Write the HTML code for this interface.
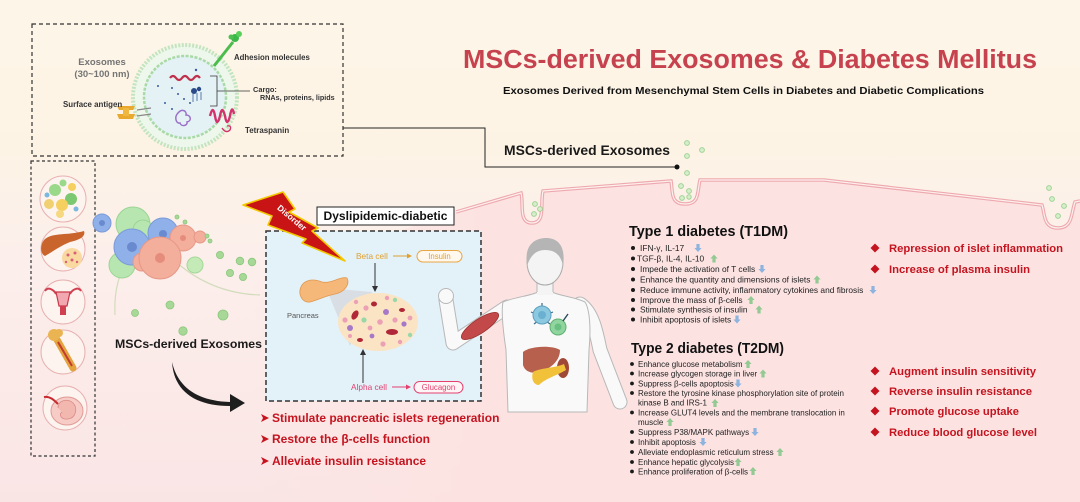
<!DOCTYPE html>
<html><head><meta charset="utf-8"><style>
html,body{margin:0;padding:0;width:1080px;height:502px;overflow:hidden;background:#fdf4e6}
svg{display:block}
text{font-family:"Liberation Sans",Arial,sans-serif}
</style></head><body>
<svg width="1080" height="502" viewBox="0 0 1080 502" xmlns="http://www.w3.org/2000/svg">
<defs>
<linearGradient id="bg" x1="0" y1="0" x2="0" y2="1">
<stop offset="0" stop-color="#fdf6e8"/>
<stop offset="0.3" stop-color="#fdf3e5"/>
<stop offset="0.5" stop-color="#fcefeb"/>
<stop offset="1" stop-color="#fae5e5"/>
</linearGradient>
<linearGradient id="mem" gradientUnits="userSpaceOnUse" x1="250" y1="0" x2="480" y2="0">
<stop offset="0" stop-color="#fce3e2" stop-opacity="0"/>
<stop offset="1" stop-color="#fce3e2" stop-opacity="1"/>
</linearGradient>
<path id="up" d="M0,-4 L3.6,0 L1.6,0 L1.6,4 L-1.6,4 L-1.6,0 L-3.6,0 Z"/>
<path id="dn" d="M0,4 L3.6,0 L1.6,0 L1.6,-4 L-1.6,-4 L-1.6,0 L-3.6,0 Z"/>
</defs>
<rect width="1080" height="502" fill="url(#bg)"/>

<!-- membrane -->
<path d="M250,280 L456,212 L521,193 C524,203 518,223 532,223 C546,223 540,203 543,191 L671,181 C673,192 670,204 685,204 C700,204 697,192 700,180 L824,180 L1042,205 C1045,214 1043,228 1058,228 C1073,228 1071,213 1075,202 L1080,201 L1080,502 L250,502 Z" fill="url(#mem)"/>
<path d="M456,212 L521,193 C524,203 518,223 532,223 C546,223 540,203 543,191 L671,181 C673,192 670,204 685,204 C700,204 697,192 700,180 L824,180 L1042,205 C1045,214 1043,228 1058,228 C1073,228 1071,213 1075,202 L1080,201" fill="none" stroke="#eea9ae" stroke-width="3.5"/>
<path d="M456,212 L521,193 C524,203 518,223 532,223 C546,223 540,203 543,191 L671,181 C673,192 670,204 685,204 C700,204 697,192 700,180 L824,180 L1042,205 C1045,214 1043,228 1058,228 C1073,228 1071,213 1075,202 L1080,201" fill="none" stroke="#fdf0ef" stroke-width="1.2"/>
<g fill="#d6eecc" stroke="#9fd394" stroke-width="1">
<circle cx="687" cy="143" r="2.4"/><circle cx="702" cy="150" r="2.4"/><circle cx="687" cy="156" r="2.4"/>
<circle cx="687" cy="173" r="2.4"/><circle cx="681" cy="186" r="2.4"/><circle cx="689" cy="191" r="2.4"/>
<circle cx="682" cy="198" r="2.4"/><circle cx="689" cy="197" r="2.2"/>
<circle cx="535" cy="204" r="2.4"/><circle cx="540" cy="209" r="2.4"/><circle cx="534" cy="214" r="2.4"/>
<circle cx="1049" cy="188" r="2.4"/><circle cx="1052" cy="199" r="2.4"/><circle cx="1064" cy="206" r="2.4"/><circle cx="1058" cy="216" r="2.4"/>
</g>

<!-- top-left exosome box -->
<rect x="32" y="24" width="311" height="132" fill="none" stroke="#333" stroke-width="1.2" stroke-dasharray="4 3"/>
<circle cx="185" cy="97" r="52" fill="#eef7ec" stroke="#c3e4bf" stroke-width="4" stroke-dasharray="2 1.5"/>
<circle cx="185" cy="97" r="41" fill="#e4f2f5" stroke="#a9d9a6" stroke-width="2.5" stroke-dasharray="3 1.5"/>
<path d="M170,78 q3,-4 6,0 t6,0 t6,0 t6,0 t6,0" fill="none" stroke="#c0304a" stroke-width="2.2"/>
<g fill="#3a5a9a"><circle cx="196" cy="70" r="1.2"/><circle cx="172" cy="88" r="1"/><circle cx="178" cy="94" r="1"/><circle cx="184" cy="99" r="1"/><circle cx="172" cy="109" r="1"/><circle cx="190" cy="103" r="1"/><circle cx="165" cy="103" r="1"/><circle cx="158" cy="86" r="1"/></g>
<circle cx="194" cy="91" r="3" fill="#2a4a8a"/><circle cx="199" cy="89" r="2.2" fill="#2a4a8a"/>
<path d="M193,94 v8 M197,93 v8 M201,92 v8" stroke="#5a7ab0" stroke-width="1"/>
<path d="M178,113 c4,-5 9,-2 8,2 c5,0 6,6 1,7 c1,4 -6,5 -7,1 c-4,1 -6,-6 -2,-10 z" fill="none" stroke="#9a70c8" stroke-width="1.5"/>
<path d="M210,76 H217 V106 H210 M217,91 H250" fill="none" stroke="#333" stroke-width="0.8"/>
<path d="M214,66 L233,42" stroke="#4cbc4c" stroke-width="3"/>
<circle cx="235" cy="38" r="4" fill="#3cb84a"/><circle cx="239" cy="34" r="3" fill="#5ad05a"/><circle cx="231" cy="37" r="2.5" fill="#4cc050"/>
<path d="M137,110 L151,108 M137,116 L151,114" stroke="#888" stroke-width="1.2"/>
<path d="M117,106 h18 l-2,4 h-14 z M117,114 h18 l-2,5 h-14 z" fill="#e9a92e"/>
<rect x="123" y="108" width="6" height="8" fill="#f0b840"/>
<path d="M210,116 q3,-12 5,0 q2,12 5,0 q2,-12 5,0 q2,12 5,0 q2,-12 4,-2" fill="none" stroke="#d3326c" stroke-width="2.4"/>
<path d="M222,128 q4,6 8,2 q2,-5 -3,-4" fill="none" stroke="#d3326c" stroke-width="1.4"/>
<text x="102" y="65" font-size="9.5" font-weight="bold" fill="#747474" text-anchor="middle">Exosomes</text>
<text x="102" y="77" font-size="9.5" font-weight="bold" fill="#747474" text-anchor="middle">(30~100 nm)</text>
<text x="234" y="60" font-size="7.8" font-weight="bold" fill="#333">Adhesion molecules</text>
<text x="253" y="92" font-size="7.4" font-weight="bold" fill="#333">Cargo:</text>
<text x="260" y="100" font-size="7.2" font-weight="bold" fill="#333">RNAs, proteins, lipids</text>
<text x="63" y="107" font-size="7.9" font-weight="bold" fill="#333">Surface antigen</text>
<text x="245" y="133" font-size="7.9" font-weight="bold" fill="#333">Tetraspanin</text>

<!-- connector -->
<path d="M343,128 H485 V167 H677" fill="none" stroke="#222" stroke-width="1"/>
<circle cx="677" cy="167" r="2.5" fill="#111"/>
<text x="504" y="155" font-size="13.4" font-weight="bold" fill="#1a1a1a" textLength="166" lengthAdjust="spacingAndGlyphs">MSCs-derived Exosomes</text>

<!-- titles -->
<text x="463" y="68" font-size="25.5" font-weight="bold" fill="#c6424f" textLength="574" lengthAdjust="spacingAndGlyphs">MSCs-derived Exosomes &amp; Diabetes Mellitus</text>
<text x="503" y="94" font-size="10.5" font-weight="bold" fill="#111" textLength="481" lengthAdjust="spacingAndGlyphs">Exosomes Derived from Mesenchymal Stem Cells in Diabetes and Diabetic Complications</text>

<!-- left column -->
<rect x="31" y="161" width="64" height="295" fill="none" stroke="#333" stroke-width="1.2" stroke-dasharray="3 2.5"/>
<g stroke="#e7b0b0" stroke-width="1" fill="#fdf3ef">
<circle cx="63" cy="199" r="23"/><circle cx="63" cy="249" r="22"/><circle cx="63" cy="302" r="22"/><circle cx="63" cy="352" r="22"/><circle cx="65" cy="408" r="22"/>
</g>
<circle cx="55" cy="190" r="6" fill="#9ad88a"/><circle cx="71" cy="199" r="6" fill="#7cc870"/><circle cx="62" cy="205" r="6" fill="#f5cf60"/>
<circle cx="49" cy="204" r="5" fill="#f0d070"/><circle cx="72" cy="187" r="4" fill="#f5cf60"/><circle cx="63" cy="183" r="3.5" fill="#9ad88a"/>
<circle cx="47" cy="195" r="2.5" fill="#7ab8e0"/><circle cx="76" cy="209" r="2.5" fill="#7ab8e0"/><circle cx="60" cy="214" r="4" fill="#f5d880"/>
<path d="M44,240 C52,232 66,236 84,231 C86,236 80,240 70,242 C60,246 52,252 45,256 C40,254 40,245 44,240 Z" fill="#c8642c"/>
<circle cx="72" cy="258" r="10" fill="#f9d9a0"/>
<g fill="#d8607a"><circle cx="68" cy="255" r="1.5"/><circle cx="75" cy="253" r="1.5"/><circle cx="72" cy="260" r="1.5"/><circle cx="77" cy="262" r="1.2"/><circle cx="66" cy="262" r="1.2"/></g>
<path d="M45,291 C48,286 54,290 56,294 M81,291 C78,286 72,290 70,294" fill="none" stroke="#d04050" stroke-width="2"/>
<path d="M56,292 H70 L67,306 H59 Z" fill="#f2a8b0" stroke="#c83848" stroke-width="1.2"/>
<rect x="60" y="306" width="6" height="9" fill="#d04050"/>
<path d="M56,338 L73,368" stroke="#e3a43e" stroke-width="7" stroke-linecap="round"/>
<path d="M58,342 L72,366" stroke="#c23a30" stroke-width="2"/>
<circle cx="54" cy="335" r="6" fill="#eab452"/><circle cx="59" cy="333" r="4" fill="#eab452"/>
<ellipse cx="67" cy="411" rx="16" ry="14" fill="#f7ccc6" stroke="#e09a96" stroke-width="1"/>
<path d="M58,408 C58,400 68,398 73,403 C78,408 76,418 68,419 C62,420 58,415 62,412" fill="#f2b8b0" stroke="#d98a86" stroke-width="0.8"/>
<path d="M44,397 C50,396 54,400 58,404" stroke="#c82a30" stroke-width="2" fill="none"/>

<!-- cells cluster -->
<path d="M115,315 C114,295 117,280 124,266" fill="none" stroke="#d2dcbc" stroke-width="1.2"/>
<path d="M176,262 C200,283 228,294 260,295" fill="none" stroke="#d2dcbc" stroke-width="1.2"/>
<circle cx="102" cy="223" r="9" fill="#8fb0e8" stroke="#7a9ad8"/><circle cx="102" cy="223" r="3" fill="#6a8ad0"/>
<circle cx="133" cy="224" r="17" fill="#b8e6b0" stroke="#9ad494"/>
<circle cx="122" cy="265" r="13" fill="#b8e6b0" stroke="#9ad494"/>
<circle cx="143" cy="230" r="10" fill="#b8e6b0" stroke="#9ad494"/>
<circle cx="132" cy="247" r="18" fill="#8fb0e8" stroke="#7a9ad8"/><circle cx="132" cy="247" r="5" fill="#6a8ad0"/>
<circle cx="163" cy="233" r="15" fill="#8fb0e8" stroke="#7a9ad8"/><circle cx="163" cy="234" r="4" fill="#6a8ad0"/>
<circle cx="183" cy="238" r="13" fill="#f4ae9c" stroke="#e69888"/>
<circle cx="200" cy="237" r="6" fill="#f4ae9c" stroke="#e69888"/>
<circle cx="142" cy="262" r="9" fill="#f4ae9c" stroke="#e69888"/>
<circle cx="160" cy="258" r="21" fill="#f4ae9c" stroke="#e69888"/><circle cx="160" cy="258" r="5" fill="#e68c7c"/>
<circle cx="183" cy="238" r="3" fill="#e68c7c"/>
<circle cx="195" cy="265" r="8" fill="#c4eab8" stroke="#a4d898"/>
<g fill="#a8d898" stroke="#8cc87c" stroke-width="0.8">
<circle cx="177" cy="217" r="2"/><circle cx="185" cy="222" r="2"/><circle cx="207" cy="236" r="2"/><circle cx="210" cy="241" r="2"/>
<circle cx="220" cy="255" r="3.6"/><circle cx="240" cy="261" r="3.8"/><circle cx="252" cy="262" r="3.8"/><circle cx="230" cy="273" r="3.6"/><circle cx="243" cy="277" r="3.6"/>
<circle cx="170" cy="305" r="4"/><circle cx="135" cy="313" r="3.5"/><circle cx="223" cy="315" r="5"/><circle cx="183" cy="331" r="4.2"/>
</g>
<text x="115" y="348" font-size="12" font-weight="bold" fill="#1a1a1a" textLength="147" lengthAdjust="spacingAndGlyphs">MSCs-derived Exosomes</text>
<path d="M172,362 C178,388 198,401 230,402 L230,394 L245,403 L230,412 L230,406 C196,406 174,392 172,362 Z" fill="#1e1e1e"/>

<!-- blue box -->
<rect x="266" y="231" width="215" height="170" fill="#e3f1f9" stroke="#333" stroke-width="1.5" stroke-dasharray="5 3"/>
<path d="M326,288 L372,292 L350,346 Z" fill="#d4dade" opacity="0.8"/>
<path d="M300,290 C302,280 312,278 322,282 C332,284 340,276 347,278 C350,284 345,292 335,294 C325,296 318,300 310,302 C303,303 299,296 300,290 Z" fill="#f5b878" stroke="#e09850" stroke-width="0.8"/>
<text x="287" y="318" font-size="7.5" fill="#555">Pancreas</text>
<ellipse cx="378" cy="322" rx="40" ry="29" fill="#fbe4c4"/>
<g>
<ellipse cx="355" cy="315" rx="3" ry="5" fill="#b02838" transform="rotate(30 355 315)"/>
<ellipse cx="392" cy="332" rx="6" ry="3" fill="#b02838"/>
<ellipse cx="374" cy="304" rx="3" ry="2.5" fill="#b02838"/>
<ellipse cx="402" cy="310" rx="3" ry="2" fill="#b02838"/>
<ellipse cx="360" cy="340" rx="3" ry="2" fill="#b02838"/>
<circle cx="350" cy="328" r="3" fill="#a878c8"/><circle cx="386" cy="312" r="3" fill="#a878c8"/><circle cx="404" cy="324" r="2.6" fill="#a878c8"/><circle cx="372" cy="336" r="2.4" fill="#a878c8"/>
<circle cx="364" cy="320" r="2.6" fill="#98d8a8"/><circle cx="395" cy="300" r="2.2" fill="#98d8a8"/><circle cx="410" cy="335" r="2.2" fill="#98d8a8"/>
<g fill="#eca0b6"><circle cx="345" cy="320" r="2.6"/><circle cx="366" cy="308" r="2.6"/><circle cx="380" cy="322" r="2.8"/><circle cx="395" cy="320" r="2.6"/><circle cx="410" cy="318" r="2.4"/><circle cx="383" cy="344" r="2.6"/><circle cx="370" cy="328" r="2.4"/><circle cx="356" cy="302" r="2.2"/><circle cx="400" cy="342" r="2.2"/><circle cx="387" cy="298" r="2.2"/><circle cx="350" cy="336" r="2"/></g>
</g>
<path d="M375,263 V288" stroke="#333" stroke-width="1"/><path d="M372,286 L375,292 L378,286 Z" fill="#333"/>
<path d="M363,383 V353" stroke="#333" stroke-width="1"/><path d="M360,355 L363,349 L366,355 Z" fill="#333"/>
<text x="356" y="259" font-size="8.3" fill="#e0a030">Beta cell</text>
<path d="M393,256 H408" stroke="#e0a030" stroke-width="1"/><path d="M407,253.5 L412,256 L407,258.5 Z" fill="#e0a030"/>
<rect x="417" y="250.5" width="45" height="11.5" rx="5.7" fill="#fff8ee" stroke="#e9a644" stroke-width="1"/>
<text x="439.5" y="259" font-size="7.8" fill="#e0a030" text-anchor="middle">Insulin</text>
<text x="351" y="390" font-size="8.3" fill="#e3406e">Alpha cell</text>
<path d="M392,387 H407" stroke="#e3406e" stroke-width="1"/><path d="M406,384.5 L411,387 L406,389.5 Z" fill="#e3406e"/>
<rect x="414" y="381.5" width="49" height="11.5" rx="5.7" fill="#fff5f7" stroke="#e3406e" stroke-width="1"/>
<text x="438.5" y="390" font-size="7.8" fill="#e3406e" text-anchor="middle">Glucagon</text>

<!-- dyslipidemic label -->
<rect x="317" y="207" width="137" height="18" fill="#fff" stroke="#222" stroke-width="1"/>
<text x="385.5" y="220" font-size="12" font-weight="bold" fill="#111" text-anchor="middle" textLength="124" lengthAdjust="spacingAndGlyphs">Dyslipidemic-diabetic</text>

<!-- lightning -->
<polygon points="243,205 283,192 295,209 289,212 318,228 312,231 345,261 302,243 306,239 268,225 272,216" fill="#c81414" stroke="#f2c800" stroke-width="1.6" stroke-linejoin="round"/>
<text x="290" y="220" font-size="8.5" font-weight="bold" fill="#fff" text-anchor="middle" transform="rotate(40 290 220)">Disorder</text>

<!-- human figure -->
<g>
<path d="M580,304 C592,312 596,330 600,350 L620,402" stroke="#b8b8b8" stroke-width="15" fill="none" stroke-linecap="round"/>
<path d="M580,304 C592,312 596,330 600,350 L620,402" stroke="#f9f9f9" stroke-width="13" fill="none" stroke-linecap="round"/>
<path d="M507,307 L453,343 L446,300" stroke="#b8b8b8" stroke-width="15" fill="none" stroke-linecap="round" stroke-linejoin="round"/>
<path d="M507,307 L453,343 L446,300" stroke="#f9f9f9" stroke-width="13" fill="none" stroke-linecap="round" stroke-linejoin="round"/>
<circle cx="446" cy="296" r="7.5" fill="#f9f9f9" stroke="#b8b8b8"/>
<ellipse cx="480" cy="326" rx="22" ry="7" fill="#c2484a" stroke="#9a3030" stroke-width="0.8" transform="rotate(-34 480 326)"/>
<path d="M503,302 C515,297 530,296 538,292 L552,292 C560,296 575,297 585,302 C590,310 591,330 589,350 L587,412 L508,412 L506,350 C503,330 501,312 503,302 Z" fill="#f9f9f9" stroke="#b8b8b8" stroke-width="1"/>
<rect x="537" y="280" width="16" height="15" fill="#f4f4f4"/>
<path d="M537,282 V292 M553,282 V292" stroke="#b8b8b8" stroke-width="1"/>
<ellipse cx="545" cy="262" rx="18" ry="23" fill="#f4f4f4" stroke="#aaa" stroke-width="1"/>
<path d="M527,264 C524,244 536,238 546,238 C558,238 566,246 563,266 C561,256 556,250 545,250 C535,250 530,257 527,266 Z" fill="#b5b5b5"/>
<g stroke="#3a6a8a" stroke-width="1.2"><path d="M542,303 V309 M531,312 L536,314 M553,312 L548,314 M534,324 L538,321 M550,324 L546,321"/></g>
<circle cx="542" cy="315" r="9" fill="#8cc8e0" stroke="#5aa0c0"/><circle cx="542" cy="315" r="4" fill="#6ab0d0"/>
<circle cx="558" cy="327" r="8" fill="#90d4a0" stroke="#60b070"/><circle cx="558" cy="327" r="3.5" fill="#6ac080"/>
<path d="M563,321 L568,314" stroke="#2a4a5a" stroke-width="1.4"/>
<path d="M523,352 C530,346 552,345 560,350 C560,360 552,368 540,372 C532,374 525,372 523,365 Z" fill="#b8604e"/>
<ellipse cx="563" cy="368" rx="6" ry="10" fill="#a04838"/>
<path d="M533,372 C540,368 555,368 564,364 L566,370 C556,376 546,378 539,385 C533,385 531,378 533,372 Z" fill="#f2c13a"/>
</g>

<!-- bottom-left red bullets -->
<g fill="#c5141f">
<path d="M261,414 L269,418 L261,422 L263,418 Z"/>
<path d="M261,435 L269,439 L261,443 L263,439 Z"/>
<path d="M261,457 L269,461 L261,465 L263,461 Z"/>
<text x="272" y="422" font-size="12" font-weight="bold">Stimulate pancreatic islets regeneration</text>
<text x="272" y="443" font-size="12" font-weight="bold">Restore the β-cells function</text>
<text x="272" y="465" font-size="12" font-weight="bold">Alleviate insulin resistance</text>
</g>

<!-- T1DM -->
<text x="629" y="236" font-size="15" font-weight="bold" fill="#111" textLength="159" lengthAdjust="spacingAndGlyphs">Type 1 diabetes (T1DM)</text>
<g fill="#1a1a1a">
<circle cx="633" cy="248" r="2"/><circle cx="633" cy="258.5" r="2"/><circle cx="633" cy="269" r="2"/><circle cx="633" cy="279.5" r="2"/>
<circle cx="633" cy="290" r="2"/><circle cx="633" cy="300" r="2"/><circle cx="633" cy="309.5" r="2"/><circle cx="633" cy="319.5" r="2"/>
</g>
<g font-size="8.4" fill="#222">
<text x="640" y="251">IFN-γ, IL-17</text>
<text x="637" y="261.5">TGF-β, IL-4, IL-10</text>
<text x="640" y="272">Impede the activation of T cells</text>
<text x="640" y="282.5">Enhance the quantity and dimensions of islets</text>
<text x="640" y="293">Reduce immune activity, inflammatory cytokines and fibrosis</text>
<text x="640" y="303">Improve the mass of β-cells</text>
<text x="640" y="312.5">Stimulate synthesis of insulin</text>
<text x="640" y="322.5">Inhibit apoptosis of islets</text>
</g>
<g fill="#8db3df"><use href="#dn" x="698" y="248"/><use href="#dn" x="762" y="269"/><use href="#dn" x="873" y="290"/><use href="#dn" x="737" y="319.5"/></g>
<g fill="#93c993"><use href="#up" x="714" y="258.5"/><use href="#up" x="817" y="279.5"/><use href="#up" x="751" y="300"/><use href="#up" x="759" y="309.5"/></g>

<!-- T2DM -->
<text x="631" y="353" font-size="15" font-weight="bold" fill="#111" textLength="153" lengthAdjust="spacingAndGlyphs">Type 2 diabetes (T2DM)</text>
<g fill="#1a1a1a">
<circle cx="632" cy="364" r="1.9"/><circle cx="632" cy="373.5" r="1.9"/><circle cx="632" cy="383.5" r="1.9"/><circle cx="632" cy="393" r="1.9"/>
<circle cx="632" cy="412.5" r="1.9"/><circle cx="632" cy="432" r="1.9"/><circle cx="632" cy="442" r="1.9"/><circle cx="632" cy="452" r="1.9"/>
<circle cx="632" cy="462" r="1.9"/><circle cx="632" cy="471.5" r="1.9"/>
</g>
<g font-size="8" fill="#222">
<text x="638" y="367">Enhance glucose metabolism</text>
<text x="638" y="376.5">Increase glycogen storage in liver</text>
<text x="638" y="386.5">Suppress β-cells apoptosis</text>
<text x="638" y="396">Restore the tyrosine kinase phosphorylation site of protein</text>
<text x="638" y="405.5">kinase B and IRS-1</text>
<text x="638" y="415.5">Increase GLUT4 levels and the membrane translocation in</text>
<text x="638" y="425">muscle</text>
<text x="638" y="435">Suppress P38/MAPK pathways</text>
<text x="638" y="445">Inhibit apoptosis</text>
<text x="638" y="455">Alleviate endoplasmic reticulum stress</text>
<text x="638" y="465">Enhance hepatic glycolysis</text>
<text x="638" y="474.5">Enhance proliferation of β-cells</text>
</g>
<g fill="#93c993"><use href="#up" x="748" y="364"/><use href="#up" x="763" y="373.5"/><use href="#up" x="715" y="403"/><use href="#up" x="670" y="422"/><use href="#up" x="780" y="452"/><use href="#up" x="738" y="462"/><use href="#up" x="753" y="471"/></g>
<g fill="#8db3df"><use href="#dn" x="738" y="383.5"/><use href="#dn" x="755" y="432"/><use href="#dn" x="703" y="442"/></g>

<!-- right red outcomes -->
<g fill="#c5141f">
<path d="M875,243.5 L879.5,248 L875,252.5 L870.5,248 Z"/>
<path d="M875,264.5 L879.5,269 L875,273.5 L870.5,269 Z"/>
<path d="M875,366.5 L879.5,371 L875,375.5 L870.5,371 Z"/>
<path d="M875,386.5 L879.5,391 L875,395.5 L870.5,391 Z"/>
<path d="M875,406.5 L879.5,411 L875,415.5 L870.5,411 Z"/>
<path d="M875,427.5 L879.5,432 L875,436.5 L870.5,432 Z"/>
<g font-size="11" font-weight="bold">
<text x="889" y="252" textLength="174" lengthAdjust="spacingAndGlyphs">Repression of islet inflammation</text>
<text x="889" y="273" textLength="141" lengthAdjust="spacingAndGlyphs">Increase of plasma insulin</text>
<text x="889" y="375" textLength="147" lengthAdjust="spacingAndGlyphs">Augment insulin sensitivity</text>
<text x="889" y="395" textLength="143" lengthAdjust="spacingAndGlyphs">Reverse insulin resistance</text>
<text x="889" y="415" textLength="130" lengthAdjust="spacingAndGlyphs">Promote glucose uptake</text>
<text x="889" y="436" textLength="148" lengthAdjust="spacingAndGlyphs">Reduce blood glucose level</text>
</g>
</g>
</svg>
</body></html>
